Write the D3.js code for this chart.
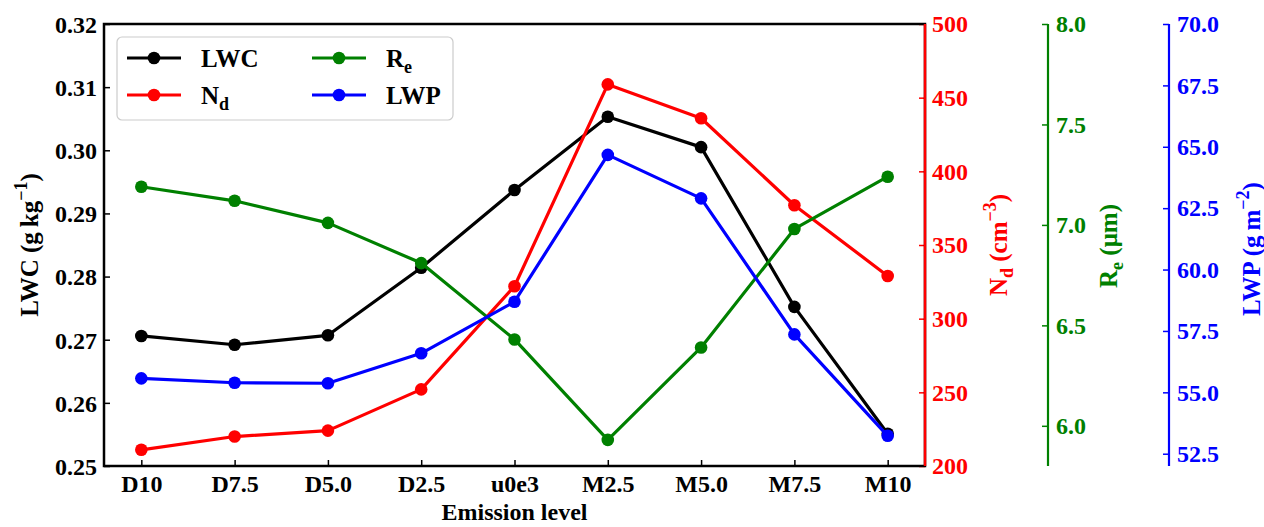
<!DOCTYPE html>
<html>
<head>
<meta charset="utf-8">
<script src="https://cdn.jsdelivr.net/npm/d3@7"></script>
<style>
  html, body { margin: 0; padding: 0; background: #fff; }
  svg { display: block; }
  text { font-family: "Liberation Serif", "Times New Roman", serif; font-weight: bold; }
</style>
</head>
<body>
<svg id="chart" width="1264" height="527"></svg>
<script>
// ---- data ----
const categories = ["D10", "D7.5", "D5.0", "D2.5", "u0e3", "M2.5", "M5.0", "M7.5", "M10"];
const lwc = [0.2706, 0.2692, 0.2707, 0.2814, 0.2937, 0.3053, 0.3005, 0.2752, 0.2551];
const nd  = [211, 220, 224, 252, 322, 459, 436, 377, 329];
const re  = [7.19, 7.12, 7.01, 6.81, 6.43, 5.93, 6.39, 6.98, 7.24];
const lwp = [55.57, 55.39, 55.37, 56.59, 58.69, 64.67, 62.90, 57.36, 53.23];

const lwcTicks = [0.25, 0.26, 0.27, 0.28, 0.29, 0.30, 0.31, 0.32];
const ndTicks  = [200, 250, 300, 350, 400, 450, 500];
const reTicks  = [6.0, 6.5, 7.0, 7.5, 8.0];
const lwpTicks = [52.5, 55.0, 57.5, 60.0, 62.5, 65.0, 67.5, 70.0];

// ---- layout ----
const L = 104, R = 925, T = 24, B = 466;
const greenX = 1048, blueX = 1169;
const svg = d3.select("#chart");

const x = d3.scaleLinear().domain([-0.4, categories.length - 1 + 0.4]).range([L, R]);
const yL = d3.scaleLinear().domain([0.25, 0.32]).range([B, T]);
const yN = d3.scaleLinear().domain([200, 500]).range([B, T]);
const yR = d3.scaleLinear().domain([5.8, 8.0]).range([B, T]);
const yW = d3.scaleLinear().domain([52, 70]).range([B, T]);

const TS = 6, FS = 24;

function styleAxis(g, color) {
  g.select(".domain").remove();
  g.selectAll(".tick line").attr("stroke", color).attr("stroke-width", 1.5);
  g.selectAll(".tick text").attr("fill", color)
    .style("font-family", '"Liberation Serif", serif')
    .style("font-weight", "bold").style("font-size", FS + "px");
}

// bottom axis
svg.append("g").attr("transform", `translate(0,${B})`)
  .call(d3.axisBottom(x).tickValues(d3.range(categories.length))
    .tickFormat(i => categories[i]).tickSizeInner(-TS).tickSizeOuter(0).tickPadding(9))
  .call(g => styleAxis(g, "#000"));

// left axis
svg.append("g").attr("transform", `translate(${L},0)`)
  .call(d3.axisLeft(yL).tickValues(lwcTicks).tickFormat(d3.format(".2f"))
    .tickSizeInner(-TS).tickSizeOuter(0).tickPadding(7))
  .call(g => styleAxis(g, "#000"))
  .call(g => g.selectAll(".tick text").attr("dy", "0.35em"));

// red axis
svg.append("g").attr("transform", `translate(${R},0)`)
  .call(d3.axisRight(yN).tickValues(ndTicks).tickFormat(d3.format("d"))
    .tickSizeInner(-TS).tickSizeOuter(0).tickPadding(7))
  .call(g => styleAxis(g, "#ff0000"));

// green axis
svg.append("g").attr("transform", `translate(${greenX},0)`)
  .call(d3.axisRight(yR).tickValues(reTicks).tickFormat(d3.format(".1f"))
    .tickSizeInner(-TS).tickSizeOuter(0).tickPadding(8))
  .call(g => styleAxis(g, "#008000"));

// blue axis
svg.append("g").attr("transform", `translate(${blueX},0)`)
  .call(d3.axisRight(yW).tickValues(lwpTicks).tickFormat(d3.format(".1f"))
    .tickSizeInner(-TS).tickSizeOuter(0).tickPadding(8))
  .call(g => styleAxis(g, "#0000ff"));

// spines
svg.append("rect").attr("x", L).attr("y", T).attr("width", R - L).attr("height", B - T)
  .attr("fill", "none").attr("stroke", "#000").attr("stroke-width", 2.5);
svg.append("line").attr("x1", R).attr("x2", R).attr("y1", T).attr("y2", B)
  .attr("stroke", "#ff0000").attr("stroke-width", 2.5);
svg.append("line").attr("x1", greenX).attr("x2", greenX).attr("y1", T).attr("y2", B)
  .attr("stroke", "#008000").attr("stroke-width", 2.2);
svg.append("line").attr("x1", blueX).attr("x2", blueX).attr("y1", T).attr("y2", B)
  .attr("stroke", "#0000ff").attr("stroke-width", 2.2);

// series
const series = [
  { values: lwc, y: yL, color: "#000000" },
  { values: nd,  y: yN, color: "#ff0000" },
  { values: re,  y: yR, color: "#008000" },
  { values: lwp, y: yW, color: "#0000ff" }
];
series.forEach(s => {
  const line = d3.line().x((d, i) => x(i)).y(d => s.y(d));
  const g = svg.append("g");
  g.append("path").datum(s.values).attr("d", line)
    .attr("fill", "none").attr("stroke", s.color).attr("stroke-width", 3.2)
    .attr("stroke-linejoin", "round");
  g.selectAll("circle").data(s.values).join("circle")
    .attr("cx", (d, i) => x(i)).attr("cy", d => s.y(d)).attr("r", 6.3)
    .attr("fill", s.color);
});

// axis labels
function rotLabel(cx, cy, color, parts) {
  const t = svg.append("text")
    .attr("transform", `translate(${cx},${cy}) rotate(-90)`)
    .attr("text-anchor", "middle").attr("fill", color)
    .style("font-size", "25px");
  let shift = 0;
  parts.forEach(p => {
    const ts = t.append("tspan").text(p.t);
    let target = 0;
    if (p.sup) { target = -0.45; ts.style("font-size", "18px"); }
    if (p.sub) { target = 0.25; ts.style("font-size", "18px"); }
    const dyEm = target - shift;
    if (dyEm !== 0) ts.attr("dy", (dyEm * 25) + "px");
    shift = target;
  });
}
rotLabel(38, 245, "#000", [{ t: "LWC (g\u2009kg" }, { t: "\u22121", sup: true }, { t: ")" }]);
rotLabel(1007, 245, "#ff0000", [{ t: "N" }, { t: "d", sub: true }, { t: " (cm" }, { t: "\u22123", sup: true }, { t: ")" }]);
rotLabel(1117, 246, "#008000", [{ t: "R" }, { t: "e", sub: true }, { t: " (\u03bcm)" }]);
rotLabel(1260, 249, "#0000ff", [{ t: "LWP (g\u2009m" }, { t: "\u22122", sup: true }, { t: ")" }]);

svg.append("text").attr("x", (L + R) / 2).attr("y", 520)
  .attr("text-anchor", "middle").attr("fill", "#000")
  .style("font-size", "24px").text("Emission level");

// legend
const leg = svg.append("g");
leg.append("rect").attr("x", 117).attr("y", 37).attr("width", 336).attr("height", 83)
  .attr("rx", 5).attr("fill", "#fff").attr("fill-opacity", 0.8)
  .attr("stroke", "#cccccc").attr("stroke-width", 1.2);
const legItems = [
  { name: "LWC", sub: null, color: "#000000", col: 0, row: 0 },
  { name: "N", sub: "d", color: "#ff0000", col: 0, row: 1 },
  { name: "R", sub: "e", color: "#008000", col: 1, row: 0 },
  { name: "LWP", sub: null, color: "#0000ff", col: 1, row: 1 }
];
legItems.forEach(it => {
  const x0 = it.col === 0 ? 127 : 312;
  const yc = it.row === 0 ? 58 : 95;
  leg.append("line").attr("x1", x0).attr("x2", x0 + 54).attr("y1", yc).attr("y2", yc)
    .attr("stroke", it.color).attr("stroke-width", 3.2);
  leg.append("circle").attr("cx", x0 + 27).attr("cy", yc).attr("r", 6.3).attr("fill", it.color);
  const t = leg.append("text").attr("x", x0 + 74).attr("y", yc + 9)
    .attr("fill", "#000").style("font-size", "25px");
  t.append("tspan").text(it.name);
  if (it.sub) t.append("tspan").attr("dy", "6px").style("font-size", "18px").text(it.sub);
});
</script>
</body>
</html>
